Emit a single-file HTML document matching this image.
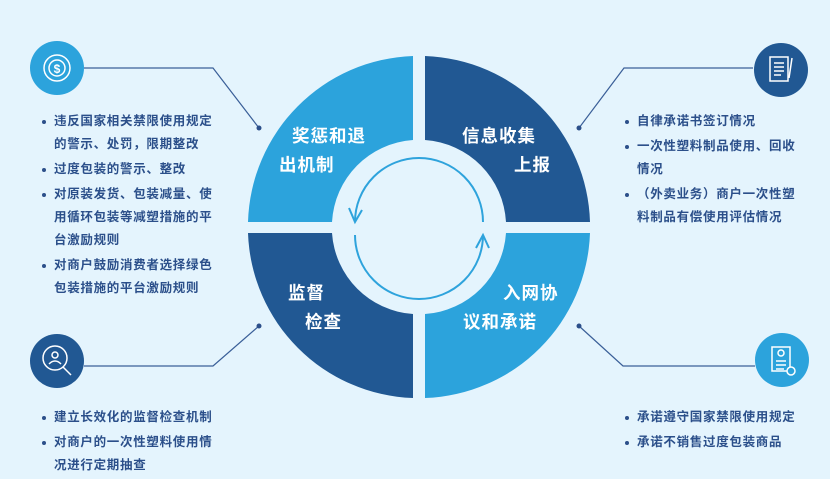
<!DOCTYPE html>
<html><head><meta charset="utf-8"><style>
body{margin:0;width:830px;height:477px;background:#e4f4fd;position:relative;overflow:hidden;font-family:"Liberation Sans","Noto Sans CJK SC",sans-serif}
.l{position:absolute;color:#2b4f8a;font-size:12.5px;font-weight:bold;line-height:23px;letter-spacing:0.7px}
.l div{position:relative;padding-left:12px;margin-bottom:2px}
.l div:before{content:"";position:absolute;left:0;top:10px;width:4px;height:4px;border-radius:50%;background:#2b4f8a}
.t{position:absolute;color:#fff;font-size:17.5px;font-weight:bold;letter-spacing:1px;white-space:nowrap}
</style></head><body>
<svg width="830" height="477" style="position:absolute;left:0;top:0">
<g fill-rule="evenodd">
<path d="M248,222 A171,171 0 0 1 413,56 L413,140 A87,87 0 0 0 332,222 Z" fill="#2ca3dc"/>
<path d="M425,56 A171,171 0 0 1 590,222 L506,222 A87,87 0 0 0 425,140 Z" fill="#215893"/>
<path d="M248,233 L332,233 A87,87 0 0 0 413,314 L413,398 A171,171 0 0 1 248,233 Z" fill="#215893"/>
<path d="M590,233 L506,233 A87,87 0 0 1 425,314 L425,398 A171,171 0 0 0 590,233 Z" fill="#2ca3dc"/>
</g>
<g fill="none" stroke="#2ea3dc" stroke-width="2">
<path d="M483,222 A64,64 0 0 0 355,222"/>
<path d="M355,235 A64,64 0 0 0 483,235"/>
</g>
<path d="M349,208 L355,222 L362,210" fill="none" stroke="#2ea3dc" stroke-width="2"/>
<path d="M476,248 L483,235 L489,248" fill="none" stroke="#2ea3dc" stroke-width="2"/>
<g stroke="#3a5f98" stroke-width="1.2" fill="none">
<polyline points="84,68 213,68 259,128"/>
<polyline points="753,68 624,68 579,128"/>
<polyline points="84,366 213,366 259,326"/>
<polyline points="755,366 623,366 579,326"/>
</g>
<g fill="#2b4f8a"><circle cx="259" cy="128" r="2.5"/><circle cx="579" cy="128" r="2.5"/><circle cx="259" cy="326" r="2.5"/><circle cx="579" cy="326" r="2.5"/></g>
<circle cx="57" cy="68" r="27" fill="#2ca3dc"/>
<circle cx="781" cy="70" r="27" fill="#215893"/>
<circle cx="57" cy="361" r="27" fill="#215893"/>
<circle cx="782" cy="360" r="27" fill="#2ca3dc"/>
<g stroke="#fff" stroke-width="1.5" fill="none">
<circle cx="57" cy="68" r="13"/><circle cx="57" cy="68" r="8"/>
<text x="57" y="73" fill="#fff" stroke="none" font-size="12" font-weight="bold" text-anchor="middle" font-family="Liberation Sans">$</text>
<rect x="770" y="57" width="18" height="24"/><path d="M774,63h10M774,67h10M774,71h10M774,75h7M792,58l-3,20"/>
<circle cx="55" cy="358" r="12"/><path d="M63,367l8,8"/><circle cx="55" cy="355" r="3"/><path d="M49,364q6,-6 12,0"/>
<rect x="772" y="347" width="18" height="24"/><circle cx="781" cy="353" r="3"/><path d="M776,361h10M776,365h10M776,369h8"/><circle cx="791" cy="371" r="4" fill="#2ca3dc"/>
</g>
</svg>
<div class="t" style="left:292px;top:123px">奖惩和退</div>
<div class="t" style="left:279px;top:152px">出机制</div>
<div class="t" style="left:462px;top:123px">信息收集</div>
<div class="t" style="left:514px;top:152px">上报</div>
<div class="t" style="left:288px;top:280px">监督</div>
<div class="t" style="left:305px;top:309px">检查</div>
<div class="t" style="left:503px;top:280px">入网协</div>
<div class="t" style="left:463px;top:309px">议和承诺</div>
<div class="l" style="left:42px;top:110px;width:173px">
<div>违反国家相关禁限使用规定的警示、处罚，限期整改</div>
<div>过度包装的警示、整改</div>
<div>对原装发货、包装减量、使用循环包装等减塑措施的平台激励规则</div>
<div>对商户鼓励消费者选择绿色包装措施的平台激励规则</div>
</div>
<div class="l" style="left:625px;top:110px;width:173px">
<div>自律承诺书签订情况</div>
<div>一次性塑料制品使用、回收情况</div>
<div>（外卖业务）商户一次性塑料制品有偿使用评估情况</div>
</div>
<div class="l" style="left:42px;top:406px;width:173px">
<div>建立长效化的监督检查机制</div>
<div>对商户的一次性塑料使用情况进行定期抽查</div>
</div>
<div class="l" style="left:625px;top:406px;width:200px">
<div>承诺遵守国家禁限使用规定</div>
<div>承诺不销售过度包装商品</div>
</div>
</body></html>
